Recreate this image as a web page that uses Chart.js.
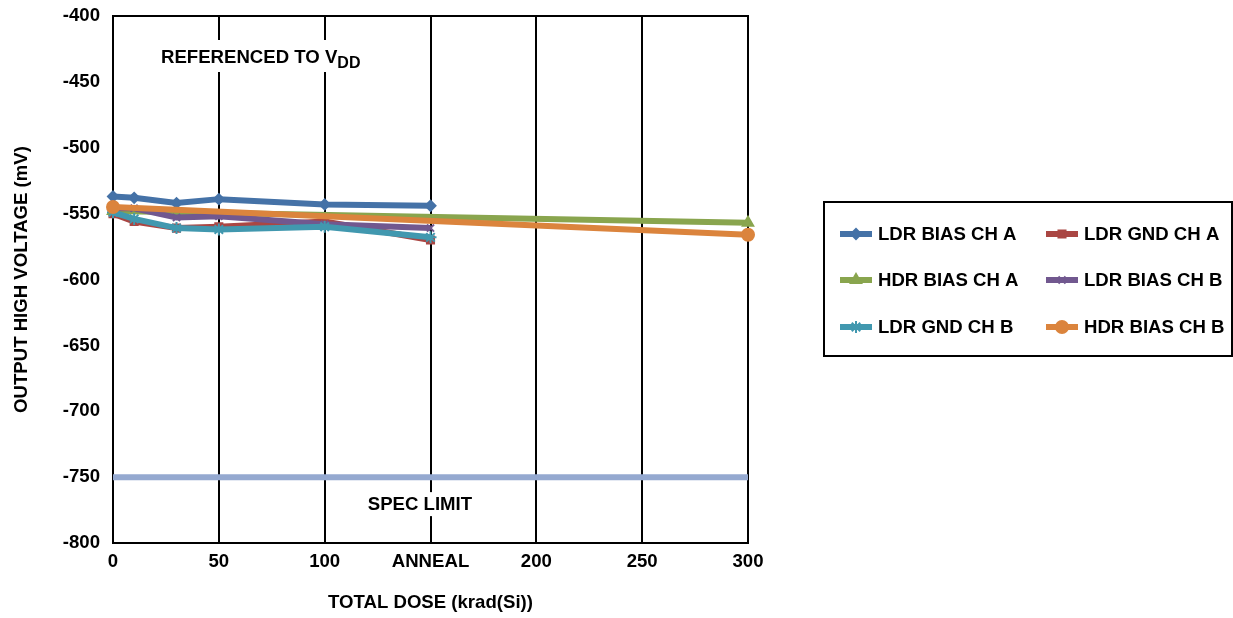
<!DOCTYPE html>
<html>
<head>
<meta charset="utf-8">
<script src="https://cdn.jsdelivr.net/npm/chart.js@4/dist/chart.umd.min.js"></script>
<style>
    body { margin: 0; background: #fff; }
    canvas { display: block; }
</style>
</head>
<body>
<canvas id="doseChart" width="1233" height="618"></canvas>
<script>
const doses = [0, 10, 30, 50, 100, 150];
const hdrDoses = [0, 300];
const specDoses = [0, 300];
const xTicks = [0, 50, 100, 150, 200, 250, 300];
const xTickLabels = ['0', '50', '100', 'ANNEAL', '200', '250', '300'];

const ldrBiasChA = [-537, -538, -542, -539, -543, -544];
const ldrGndChA = [-550, -556, -561, -560, -556, -570];
const hdrBiasChA = [-548, -557];
const ldrBiasChB = [-546, -546, -553, -552, -558, -561];
const ldrGndChB = [-549, -554, -561, -562, -560, -568];
const hdrBiasChB = [-545, -566];
const specLimit = [-750, -750];

const FONT = '"Liberation Sans", Arial, sans-serif';
const FS = 18.6;

function toPoints(xs, ys) {
    return xs.map((x, i) => ({ x: x, y: ys[i] }));
}

function series(label, xs, ys, color, style, radius, order) {
    return {
        label: label,
        data: toPoints(xs, ys),
        borderColor: color,
        backgroundColor: color,
        borderWidth: 6,
        pointStyle: style,
        pointRadius: radius,
        pointBorderWidth: 2,
        pointBorderColor: color,
        pointBackgroundColor: color,
        tension: 0,
        clip: false,
        order: order
    };
}

const datasets = [
    series('LDR BIAS CH A', doses, ldrBiasChA, '#4572A7', 'rectRot', 5, 6),
    series('LDR GND CH A', doses, ldrGndChA, '#AA4643', 'rect', 5, 5),
    series('HDR BIAS CH A', hdrDoses, hdrBiasChA, '#89A54E', 'triangle', 6, 4),
    series('LDR BIAS CH B', doses, ldrBiasChB, '#71588F', 'crossRot', 5, 3),
    series('LDR GND CH B', doses, ldrGndChB, '#4198AF', 'star', 6, 2),
    series('HDR BIAS CH B', hdrDoses, hdrBiasChB, '#DB843D', 'circle', 6, 1),
    {
        label: 'SPEC',
        data: toPoints(specDoses, specLimit),
        borderColor: '#95A9D0',
        borderWidth: 6,
        pointRadius: 0,
        clip: false,
        order: 10
    }
];

// frame + white text boxes over the grid
const notesPlugin = {
    id: 'notes',
    beforeDatasetsDraw(chart) {
        const ctx = chart.ctx;
        const a = chart.chartArea;
        const xs = chart.scales.x;
        const ys = chart.scales.y;
        ctx.save();
        ctx.strokeStyle = '#000';
        ctx.lineWidth = 2;
        ctx.strokeRect(a.left, a.top, a.right - a.left, a.bottom - a.top);

        // REFERENCED TO VDD
        let x0 = xs.getPixelForValue(0) + 48;
        let yb = ys.getPixelForValue(-400) + 47;
        ctx.fillStyle = '#fff';
        ctx.fillRect(x0 - 6, yb - 23, 216, 32);
        ctx.fillStyle = '#000';
        ctx.textAlign = 'left';
        ctx.textBaseline = 'alphabetic';
        ctx.font = 'bold ' + FS + 'px ' + FONT;
        const main = 'REFERENCED TO V';
        ctx.fillText(main, x0, yb);
        const w = ctx.measureText(main).width;
        ctx.font = 'bold 16px ' + FONT;
        ctx.fillText('DD', x0 + w, yb + 5);

        // SPEC LIMIT
        const cx = xs.getPixelForValue(145);
        yb = ys.getPixelForValue(-750) + 33;
        ctx.fillStyle = '#fff';
        ctx.fillRect(cx - 58, yb - 18, 116, 24);
        ctx.fillStyle = '#000';
        ctx.font = 'bold ' + FS + 'px ' + FONT;
        ctx.textAlign = 'center';
        ctx.fillText('SPEC LIMIT', cx, yb);
        ctx.restore();
    },
    afterDraw(chart) {
        const ctx = chart.ctx;
        const sets = chart.data.datasets.slice(0, 6);
        const boxX = 824, boxY = 202, boxW = 408, boxH = 154;
        ctx.save();
        ctx.fillStyle = '#fff';
        ctx.fillRect(boxX, boxY, boxW, boxH);
        ctx.strokeStyle = '#000';
        ctx.lineWidth = 2;
        ctx.strokeRect(boxX, boxY, boxW, boxH);
        ctx.font = 'bold ' + FS + 'px ' + FONT;
        ctx.textAlign = 'left';
        ctx.textBaseline = 'middle';
        const colX = [840, 1046];
        const rowY = [234, 280, 327];
        sets.forEach((ds, i) => {
            const lx = colX[i % 2];
            const ly = rowY[Math.floor(i / 2)];
            ctx.strokeStyle = ds.borderColor;
            ctx.lineWidth = 6;
            ctx.beginPath();
            ctx.moveTo(lx, ly);
            ctx.lineTo(lx + 32, ly);
            ctx.stroke();
            if (Chart.helpers && Chart.helpers.drawPoint) {
                ctx.fillStyle = ds.borderColor;
                ctx.lineWidth = 2;
                Chart.helpers.drawPoint(ctx, { pointStyle: ds.pointStyle, radius: ds.pointRadius, borderWidth: 2 }, lx + 16, ly);
            }
            ctx.fillStyle = '#000';
            ctx.fillText(ds.label, lx + 38, ly + 1);
        });
        ctx.restore();
    }
};

new Chart(document.getElementById('doseChart').getContext('2d'), {
    type: 'line',
    data: { datasets: datasets },
    options: {
        responsive: false,
        animation: false,
        layout: { padding: { left: 0, top: 16, right: 485, bottom: 0 } },
        plugins: {
            legend: { display: false },
            tooltip: { enabled: false }
        },
        scales: {
            x: {
                type: 'linear',
                min: 0,
                max: 300,
                afterFit: (scale) => {
                    scale.height = 75;
                    scale.paddingLeft = 0;
                    scale.paddingRight = 0;
                },
                afterBuildTicks: (scale) => { scale.ticks = xTicks.map(v => ({ value: v })); },
                ticks: {
                    color: '#000',
                    font: { family: FONT, size: FS, weight: 'bold' },
                    padding: 8,
                    maxRotation: 0,
                    autoSkip: false,
                    callback: (v) => xTickLabels[xTicks.indexOf(v)]
                },
                grid: { color: '#000', lineWidth: 2, drawTicks: false },
                border: { display: true, color: '#000', width: 2 },
                title: {
                    display: true,
                    text: 'TOTAL DOSE (krad(Si))',
                    color: '#000',
                    font: { family: FONT, size: FS, weight: 'bold' },
                    padding: { top: 0, bottom: 4 }
                }
            },
            y: {
                min: -800,
                max: -400,
                afterFit: (scale) => {
                    scale.width = 113;
                    scale.paddingTop = 0;
                    scale.paddingBottom = 0;
                },
                ticks: {
                    stepSize: 50,
                    color: '#000',
                    font: { family: FONT, size: FS, weight: 'bold' },
                    padding: 13
                },
                grid: { display: false, drawTicks: false },
                border: { display: true, color: '#000', width: 2 },
                title: {
                    display: true,
                    text: 'OUTPUT HIGH VOLTAGE (mV)',
                    color: '#000',
                    font: { family: FONT, size: FS, weight: 'bold' },
                    padding: { top: 11, bottom: 0 }
                }
            }
        }
    },
    plugins: [notesPlugin]
});
</script>
</body>
</html>
